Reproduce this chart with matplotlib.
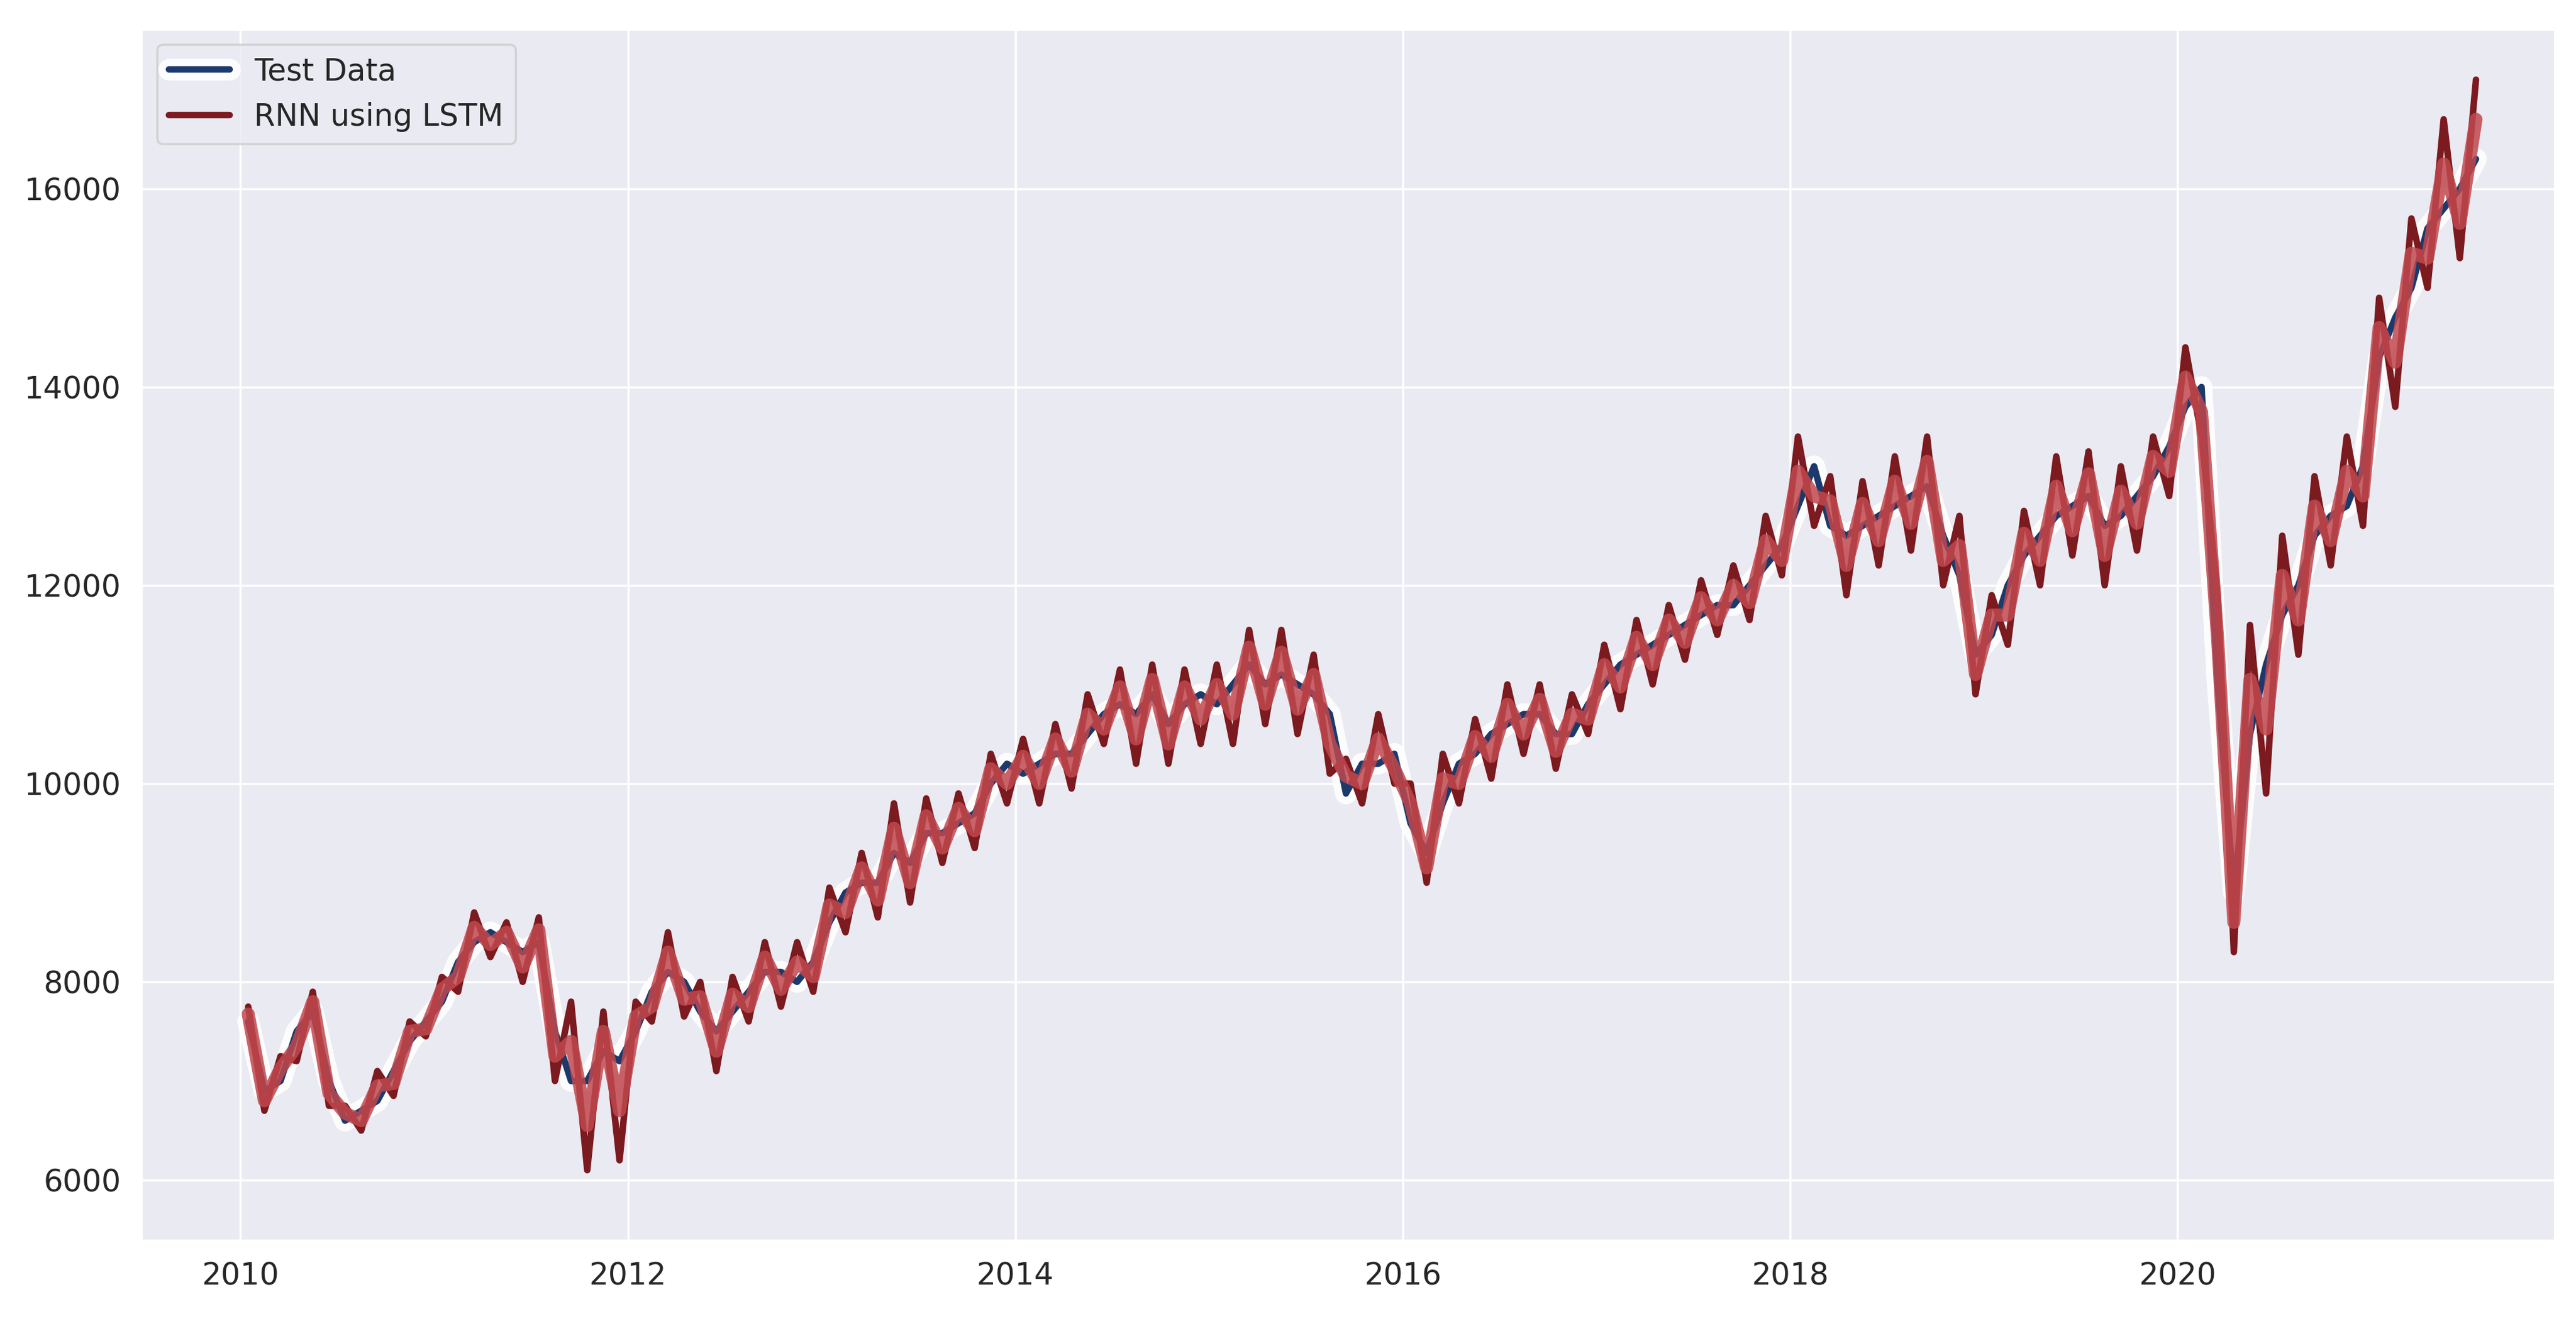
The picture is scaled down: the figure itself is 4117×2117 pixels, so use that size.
import numpy as np
import matplotlib
matplotlib.use("Agg")
import matplotlib.pyplot as plt
import matplotlib.patheffects as pe
import seaborn as sns

# monthly closing values, Jan 2010 .. Jul 2021
test_data = [
    7600, 6900, 7000, 7500, 7700, 7000, 6600, 6700, 6800, 7100, 7400, 7600,   # 2010
    7800, 8200, 8400, 8500, 8400, 8300, 8400, 7500, 7000, 7000, 7300, 7200,   # 2011
    7500, 7900, 8100, 8000, 7700, 7500, 7700, 7900, 8100, 8100, 8000, 8200,   # 2012
    8600, 8900, 9000, 9000, 9300, 9200, 9500, 9500, 9600, 9700, 10000, 10200, # 2013
    10100, 10200, 10300, 10300, 10500, 10700, 10800, 10700, 10900, 10600, 10800, 10900,
    10800, 11000, 11200, 11000, 11100, 11000, 10900, 10700, 9900, 10200, 10200, 10300,
    9600, 9300, 9800, 10200, 10300, 10500, 10600, 10700, 10700, 10500, 10500, 10800,
    11000, 11200, 11300, 11400, 11500, 11600, 11700, 11800, 11800, 12000, 12200, 12400,
    12800, 13200, 12600, 12500, 12600, 12700, 12800, 12900, 13000, 12500, 12100, 11300,
    11500, 12000, 12300, 12500, 12700, 12800, 12900, 12600, 12700, 12900, 13100, 13400,
    13800, 14000, 11000, 8900, 10500, 11200, 11700, 12000, 12500, 12700, 12800, 13200,
    14300, 14700, 15000, 15600, 15800, 16000, 16300,                          # 2021
]

# prediction offsets from the test values (spikes of the LSTM curve)
pred_offset = [
    150, -200, 250, -300, 200, -250, 150, -200, 300, -250, 200, -150,
    250, -300, 300, -250, 200, -300, 250, -500, 800, -900, 400, -1000,
    300, -300, 400, -350, 300, -400, 350, -300, 300, -350, 400, -300,
    350, -400, 300, -350, 500, -400, 350, -300, 300, -350, 300, -400,
    350, -400, 300, -350, 400, -300, 350, -500, 300, -400, 350, -500,
    400, -600, 350, -400, 450, -500, 400, -600, 350, -400, 500, -300,
    400, -300, 500, -400, 350, -450, 400, -400, 300, -350, 400, -300,
    400, -450, 350, -400, 300, -350, 350, -300, 400, -350, 500, -300,
    700, -600, 500, -600, 450, -500, 500, -550, 500, -500, 600, -400,
    400, -600, 450, -500, 600, -500, 450, -600, 500, -550, 400, -500,
    600, -500, 900, -600, 1100, -1300, 800, -700, 600, -500, 700, -600,
    600, -900, 700, -600, 900, -700, 800,
]

dates = 2010.04 + np.arange(len(test_data)) / 12.0
test = np.array(test_data)
pred = test + np.array(pred_offset)

sns.set_theme(style="darkgrid")
plt.rcParams['font.family'] = ['DejaVu Sans']

fig = plt.figure(figsize=(16.468, 8.468), dpi=250)
ax = fig.add_axes([0.055, 0.063, 0.937, 0.915])

halo = [pe.withStroke(linewidth=10, foreground='white', alpha=0.9)]
ax.plot(dates, test, color='#1b3a6b', lw=3, label='Test Data', path_effects=halo)
ax.plot(dates, pred, color='#7b1a1f', lw=3, label='RNN using LSTM')
ax.plot(dates, (test + pred) / 2, color='#c0484e', lw=6, alpha=0.85)

ax.set_xlim(2009.49, 2021.95)
ax.set_ylim(5390, 17610)
ax.set_xticks([2010, 2012, 2014, 2016, 2018, 2020])
ax.set_xticklabels(['2010', '2012', '2014', '2016', '2018', '2020'])
ax.set_yticks([6000, 8000, 10000, 12000, 14000, 16000])
ax.tick_params(labelsize=14)
ax.legend(loc='upper left', fontsize=14, frameon=True)

fig.savefig('out.png')
